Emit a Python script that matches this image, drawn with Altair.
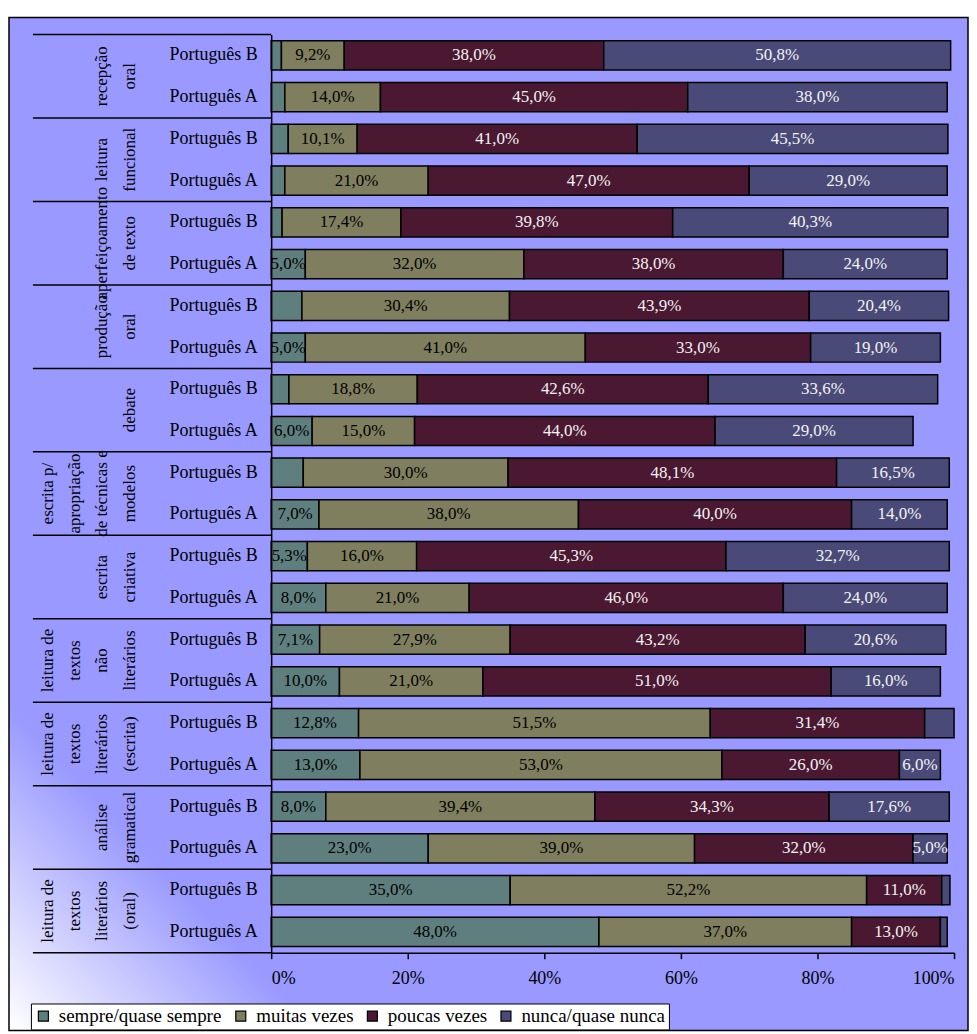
import altair as alt
import pandas as pd

# ---- data (top to bottom, Português B then Português A in each group) ----
groups = [
    "recepção\noral",
    "leitura\nfuncional",
    "aperfeiçoamento\nde texto",
    "produção\noral",
    "debate",
    "escrita p/\napropriação\nde técnicas e\nmodelos",
    "escrita\ncriativa",
    "leitura de\ntextos\nnão\nliterários",
    "leitura de\ntextos\nliterários\n(escrita)",
    "análise\ngramatical",
    "leitura de\ntextos\nliterários\n(oral)",
]
subgroups = ["B", "A"]
series = ["sempre/quase sempre", "muitas vezes", "poucas vezes", "nunca/quase nunca"]
colors = ["#5F7F7F", "#7F7F5F", "#4B1832", "#4A4A78"]

sempre = [1.5, 2.0, 2.5, 2.0, 1.6, 5.0, 4.5, 5.0, 2.6, 6.0, 4.7, 7.0,
          5.3, 8.0, 7.1, 10.0, 12.8, 13.0, 8.0, 23.0, 35.0, 48.0]
muitas = [9.2, 14.0, 10.1, 21.0, 17.4, 32.0, 30.4, 41.0, 18.8, 15.0, 30.0, 38.0,
          16.0, 21.0, 27.9, 21.0, 51.5, 53.0, 39.4, 39.0, 52.2, 37.0]
poucas = [38.0, 45.0, 41.0, 47.0, 39.8, 38.0, 43.9, 33.0, 42.6, 44.0, 48.1, 40.0,
          45.3, 46.0, 43.2, 51.0, 31.4, 26.0, 34.3, 32.0, 11.0, 13.0]
nunca = [50.8, 38.0, 45.5, 29.0, 40.3, 24.0, 20.4, 19.0, 33.6, 29.0, 16.5, 14.0,
         32.7, 24.0, 20.6, 16.0, 4.3, 6.0, 17.6, 5.0, 1.2, 1.0]
x_ticks = [0, 20, 40, 60, 80, 100]

FONT = "Liberation Serif"

# ---- tables ----
row_keys = [f"{gi:02d}{s}" for gi in range(len(groups)) for s in subgroups]
records = []
for k, key in enumerate(row_keys):
    for si, (name, vals) in enumerate(zip(series, [sempre, muitas, poucas, nunca])):
        v = vals[k]
        records.append({
            "row": key, "serie": name, "order": si, "value": v,
            "lbl": f"{v:.1f}".replace(".", ",") + "%",
        })
df = pd.DataFrame(records)

# rotated group labels: one text row per line, right-aligned line slots
max_lines = max(len(g.split("\n")) for g in groups)
line_rows = []
for gi, g in enumerate(groups):
    lines = g.split("\n")
    for li, ln in enumerate(lines):
        line_rows.append({"txt": ln, "c": gi + 0.5, "slot": max_lines - len(lines) + li})
lines_df = pd.DataFrame(line_rows)
sep_df = pd.DataFrame({"b": list(range(len(groups) + 1))})
one = pd.DataFrame({"a": [0]})

W, H = 685, 921

bg = alt.Chart(one).mark_rect(
    fill=alt.LinearGradient(
        gradient="linear",
        stops=[alt.GradientStop(color="#FFFFFF", offset=0),
               alt.GradientStop(color="#9999FF", offset=1)],
        x1=0, y1=1, x2=0.16, y2=0.84),
    stroke="black", strokeWidth=1.5,
).encode(x=alt.value(-263), x2=alt.value(699), y=alt.value(-17), y2=alt.value(999))

gscale = alt.Scale(domain=[0, len(groups)], reverse=True, nice=False, zero=False)

seps = alt.Chart(sep_df).mark_rule(color="black", strokeWidth=1.5).encode(
    y=alt.Y("b:Q", scale=gscale, axis=None),
    x=alt.value(-239), x2=alt.value(0),
)

LINE_H = 27.3
glayers = []
for slot in range(max_lines):
    glayers.append(
        alt.Chart(lines_df).transform_filter(f"datum.slot == {slot}").mark_text(
            font=FONT, fontSize=17, angle=270, align="center", baseline="middle",
            color="black",
        ).encode(
            y=alt.Y("c:Q", scale=gscale, axis=None),
            x=alt.value(-224 + LINE_H * slot),
            text="txt:N",
        )
    )

base = alt.Chart(df).transform_stack(
    stack="value", groupby=["row"], as_=["x0", "x1"],
    sort=[alt.SortField("order", order="ascending")],
).transform_calculate(xm="(datum.x0 + datum.x1) / 2")

yscale = alt.Scale(paddingInner=0.3, paddingOuter=0.15)

bars = base.mark_bar(stroke="black", strokeWidth=1.5).encode(
    x=alt.X("x0:Q", scale=alt.Scale(domain=[0, 100], nice=False),
            axis=alt.Axis(
                title=None, values=x_ticks, labelExpr="datum.value + '%'",
                grid=False, domainColor="black", domainWidth=1.5,
                tickColor="black", tickSize=6, tickWidth=1.5,
                labelFont=FONT, labelFontSize=18, labelColor="black",
                labelPadding=11, zindex=1,
            )),
    x2="x1:Q",
    y=alt.Y(
        "row:N", sort=row_keys, scale=yscale,
        axis=alt.Axis(
            title=None, ticks=False, domain=True, domainColor="black", domainWidth=1.5,
            labelExpr="'Português ' + substring(datum.value, 2, 3)",
            labelFont=FONT, labelFontSize=18, labelColor="black", labelPadding=14,
            zindex=1,
        ),
    ),
    color=alt.Color(
        "serie:N", scale=alt.Scale(domain=series, range=colors),
        legend=alt.Legend(
            title=None, orient="none", legendX=-241, legendY=972,
            direction="horizontal", fillColor="white", strokeColor="black",
            padding=3, symbolType="square", symbolSize=100,
            symbolStrokeColor="black", symbolStrokeWidth=1.2,
            labelFont=FONT, labelFontSize=19, labelColor="black", labelLimit=400,
            columnPadding=9, labelOffset=6,
        ),
    ),
    order=alt.Order("order:Q"),
)

texts = base.transform_filter("datum.value >= 5").mark_text(
    font=FONT, fontSize=17, align="center", baseline="middle",
).encode(
    x=alt.X("xm:Q"),
    y=alt.Y("row:N", sort=row_keys, scale=yscale),
    text="lbl:N",
    color=alt.when("datum.order >= 2").then(alt.value("#F2F2F2")).otherwise(alt.value("black")),
)

plot = alt.layer(bars, texts)

chart = alt.layer(bg, seps, *glayers, plot).resolve_scale(
    y="independent"
).properties(
    width=W, height=H,
    padding={"left": 0, "top": 7, "right": 0, "bottom": 0},
    background="white",
).configure_view(stroke=None)

chart.save("out.html", embed_options={"renderer": "svg", "actions": False})
